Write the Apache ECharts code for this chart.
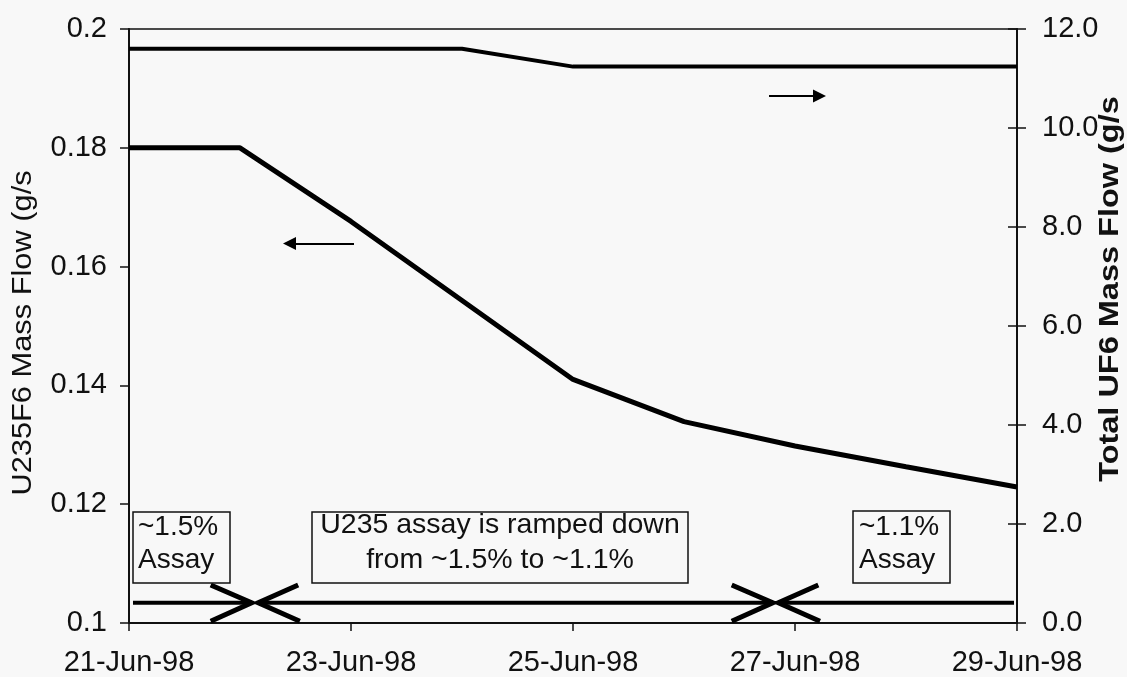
<!DOCTYPE html>
<html>
<head>
<meta charset="utf-8">
<title>U235F6 and Total UF6 Mass Flow</title>
<script src="https://cdn.jsdelivr.net/npm/echarts@6/dist/echarts.min.js"></script>
<style>
  html, body { margin: 0; padding: 0; background: #f8f8f8; }
  #chart { width: 1127px; height: 677px; }
</style>
</head>
<body>
<div id="chart"></div>
<script>
// Day of June 1998 for each daily reading
const days = [21, 22, 23, 24, 25, 26, 27, 28, 29];
// U235F6 mass flow (g/s), left axis
const u235f6Flow = [0.18, 0.18, 0.1676, 0.1543, 0.141, 0.1339, 0.1298, 0.1263, 0.1229];
// Total UF6 mass flow (g/s), right axis
const totalUf6Flow = [11.6, 11.6, 11.6, 11.6, 11.24, 11.24, 11.24, 11.24, 11.24];

// Axis ticks
const xTicks = { min: 21, max: 29, step: 2 };
const leftTicks = { min: 0.1, max: 0.2, step: 0.02 };
const rightTicks = { min: 0, max: 12, step: 2 };

// Assay period bar along the bottom (day, left-axis value); null breaks the bar
const assayBar = [
  [21.036, 0.1034], [22.105, 0.1034], null,
  [22.164, 0.1034], [26.80, 0.1034], null,
  [26.85, 0.1034], [28.973, 0.1034]
];
// Converging chevrons marking where the assay ramp starts and ends
const assayChevrons = [
  [21.736, 0.1064], [22.105, 0.1034], [21.736, 0.1003], null,
  [22.524, 0.1064], [22.164, 0.1034], [22.539, 0.1003], null,
  [26.43, 0.1064], [26.80, 0.1034], [26.43, 0.1003], null,
  [27.21, 0.1064], [26.85, 0.1034], [27.225, 0.1003]
];
// Arrows pointing each curve to its axis: [from, to] in (day, left-axis value)
const axisArrows = [
  [[23.027, 0.1639], [22.446, 0.1639]],
  [[26.766, 0.1887], [27.221, 0.1887]]
];

const FONT = "'Liberation Sans', Arial, sans-serif";
const INK = '#111';

const chart = echarts.init(document.getElementById('chart'), null, { renderer: 'canvas' });

const toPairs = (xs, ys) => xs.map((x, i) => [x, ys[i]]);

const option = {
  backgroundColor: '#f8f8f8',
  animation: false,
  grid: {
    left: 129, right: 110, top: 29, bottom: 53,
    show: true, borderColor: INK, borderWidth: 1.5, backgroundColor: 'transparent'
  },
  xAxis: {
    type: 'value',
    min: xTicks.min, max: xTicks.max, interval: xTicks.step,
    axisLine: { lineStyle: { color: INK, width: 2 } },
    axisTick: { show: true, length: 8, lineStyle: { color: INK, width: 1.5 } },
    axisLabel: {
      margin: 25, color: INK, fontSize: 29, fontFamily: FONT,
      formatter: v => v + '-Jun-98'
    },
    splitLine: { show: false }
  },
  yAxis: [
    {
      type: 'value', position: 'left',
      min: leftTicks.min, max: leftTicks.max, interval: leftTicks.step,
      axisLine: { show: true, lineStyle: { color: INK, width: 2 } },
      axisTick: { show: true, length: 9, lineStyle: { color: INK, width: 1.5 } },
      axisLabel: {
        margin: 22, color: INK, fontSize: 29, fontFamily: FONT,
        formatter: v => String(+v.toFixed(2))
      },
      splitLine: { show: false }
    },
    {
      type: 'value', position: 'right',
      min: rightTicks.min, max: rightTicks.max, interval: rightTicks.step,
      axisLine: { show: true, lineStyle: { color: INK, width: 2 } },
      axisTick: { show: true, length: 9, lineStyle: { color: INK, width: 1.5 } },
      axisLabel: {
        margin: 25, color: INK, fontSize: 29, fontFamily: FONT,
        formatter: v => v.toFixed(1)
      },
      splitLine: { show: false }
    },
    {
      // inner half of the right-hand cross ticks
      type: 'value', position: 'right',
      min: rightTicks.min, max: rightTicks.max, interval: rightTicks.step,
      axisLine: { show: false },
      axisTick: { show: true, inside: true, length: 9, lineStyle: { color: INK, width: 1.5 } },
      axisLabel: { show: false },
      splitLine: { show: false }
    }
  ],
  series: [
    {
      name: 'U235F6 Mass Flow',
      type: 'line', yAxisIndex: 0,
      data: toPairs(days, u235f6Flow),
      symbol: 'none',
      lineStyle: { color: '#000', width: 5 },
      z: 5
    },
    {
      name: 'Total UF6 Mass Flow',
      type: 'line', yAxisIndex: 1,
      data: toPairs(days, totalUf6Flow),
      symbol: 'none',
      lineStyle: { color: '#000', width: 4 },
      z: 5
    },
    {
      name: 'Assay bar',
      type: 'line', yAxisIndex: 0,
      data: assayBar.map(p => p || [null, null]),
      connectNulls: false,
      symbol: 'none',
      lineStyle: { color: '#000', width: 4 },
      z: 4
    },
    {
      name: 'Assay chevrons',
      type: 'line', yAxisIndex: 0,
      data: assayChevrons.map(p => p || [null, null]),
      connectNulls: false,
      symbol: 'none',
      lineStyle: { color: '#000', width: 5, join: 'miter' },
      z: 4
    },
    {
      name: 'Axis arrows',
      type: 'lines',
      coordinateSystem: 'cartesian2d',
      xAxisIndex: 0, yAxisIndex: 0,
      data: axisArrows.map(c => ({ coords: c })),
      symbol: ['none', 'triangle'],
      symbolSize: 13,
      lineStyle: { color: '#000', width: 2, opacity: 1 },
      z: 6
    }
  ],
  graphic: [
    // axis titles
    {
      type: 'text', x: 23, y: 333, rotation: Math.PI / 2, scaleX: 1.1,
      style: {
        text: 'U235F6 Mass Flow (g/s', fill: INK,
        fontSize: 28, fontFamily: FONT,
        align: 'center', verticalAlign: 'middle'
      }
    },
    {
      type: 'text', x: 1110, y: 289, rotation: Math.PI / 2, scaleX: 1.16,
      style: {
        text: 'Total UF6 Mass Flow (g/s', fill: INK,
        fontSize: 28, fontFamily: FONT, fontWeight: 'bold',
        align: 'center', verticalAlign: 'middle'
      }
    },
    // assay notes
    {
      type: 'rect', shape: { x: 133, y: 512, width: 97, height: 71 },
      style: { fill: '#f8f8f8', stroke: INK, lineWidth: 1.5 }, z: 10
    },
    {
      type: 'text', x: 138, y: 543.5, z: 11,
      style: {
        text: '~1.5%\nAssay', fill: INK, fontSize: 28, fontFamily: FONT,
        lineHeight: 33, align: 'left', verticalAlign: 'middle'
      }
    },
    {
      type: 'rect', shape: { x: 312, y: 512, width: 376, height: 71 },
      style: { fill: '#f8f8f8', stroke: INK, lineWidth: 1.5 }, z: 10
    },
    {
      type: 'text', x: 500, y: 543, z: 11,
      style: {
        text: 'U235 assay is ramped down\nfrom ~1.5% to ~1.1%', fill: INK,
        fontSize: 28.5, fontFamily: FONT,
        lineHeight: 35, align: 'center', verticalAlign: 'middle'
      }
    },
    {
      type: 'rect', shape: { x: 853, y: 511, width: 97, height: 72 },
      style: { fill: '#f8f8f8', stroke: INK, lineWidth: 1.5 }, z: 10
    },
    {
      type: 'text', x: 859, y: 543.5, z: 11,
      style: {
        text: '~1.1%\nAssay', fill: INK, fontSize: 28, fontFamily: FONT,
        lineHeight: 33, align: 'left', verticalAlign: 'middle'
      }
    }
  ]
};

chart.setOption(option);
</script>
</body>
</html>
